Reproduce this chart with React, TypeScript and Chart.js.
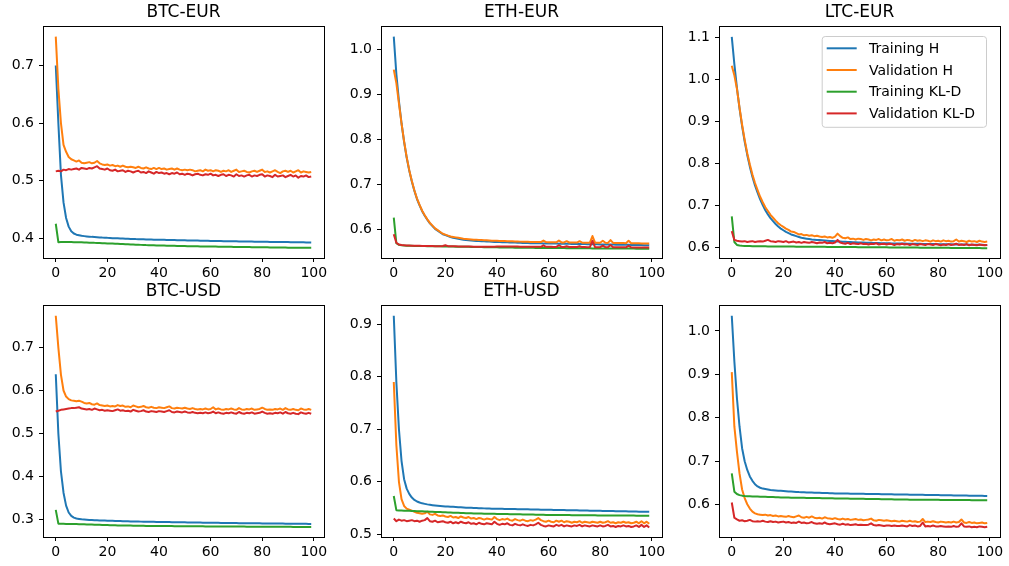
import React, { useEffect, useRef } from "react";
import { Chart, registerables } from "chart.js";

Chart.register(...registerables);

// ---------- data ----------
const epochs = Array.from({ length: 100 }, (_, i) => i);
const xTicks = [0, 20, 40, 60, 80, 100];
const seriesLabels = ["Training H", "Validation H", "Training KL-D", "Validation KL-D"];
const seriesColors = ["#1f77b4", "#ff7f0e", "#2ca02c", "#d62728"];

// BTC-EUR
const btcEurYTicks = [0.4, 0.5, 0.6, 0.7];
const btcEurTrainH = [
  0.700, 0.600, 0.510, 0.462, 0.435, 0.420, 0.412, 0.408, 0.406, 0.405,
  0.4040, 0.4035, 0.4030, 0.4026, 0.4022, 0.4019, 0.4016, 0.4013, 0.4010, 0.4008,
  0.4005, 0.4003, 0.4000, 0.3998, 0.3996, 0.3994, 0.3992, 0.3990, 0.3988, 0.3986,
  0.3985, 0.3983, 0.3982, 0.3980, 0.3979, 0.3978, 0.3976, 0.3975, 0.3974, 0.3973,
  0.3972, 0.3971, 0.3970, 0.3969, 0.3968, 0.3967, 0.3966, 0.3965, 0.3964, 0.3963,
  0.3962, 0.3961, 0.3960, 0.3959, 0.3958, 0.3957, 0.3956, 0.3955, 0.3954, 0.3953,
  0.3952, 0.3951, 0.3950, 0.3950, 0.3949, 0.3948, 0.3947, 0.3946, 0.3946, 0.3945,
  0.3944, 0.3943, 0.3943, 0.3942, 0.3941, 0.3940, 0.3940, 0.3939, 0.3938, 0.3938,
  0.3937, 0.3936, 0.3936, 0.3935, 0.3934, 0.3934, 0.3933, 0.3932, 0.3932, 0.3931,
  0.3931, 0.3930, 0.3929, 0.3929, 0.3928, 0.3928, 0.3927, 0.3926, 0.3926, 0.3925,
];
const btcEurValH = [
  0.750, 0.660, 0.600, 0.562, 0.550, 0.541, 0.537, 0.535, 0.533, 0.535,
  0.531, 0.530, 0.531, 0.532, 0.530, 0.531, 0.534, 0.530, 0.528, 0.527,
  0.528, 0.526, 0.527, 0.525, 0.526, 0.524, 0.526, 0.524, 0.523, 0.524,
  0.523, 0.522, 0.524, 0.522, 0.521, 0.523, 0.521, 0.520, 0.522, 0.520,
  0.522, 0.520, 0.521, 0.519, 0.520, 0.521, 0.519, 0.521, 0.519, 0.518,
  0.519, 0.518, 0.519, 0.518, 0.516, 0.517, 0.518, 0.516, 0.519, 0.517,
  0.518, 0.516, 0.518, 0.517, 0.515, 0.517, 0.516, 0.518, 0.515, 0.517,
  0.519, 0.515, 0.516, 0.517, 0.515, 0.514, 0.516, 0.517, 0.515, 0.517,
  0.519, 0.515, 0.516, 0.514, 0.516, 0.518, 0.515, 0.513, 0.516, 0.517,
  0.515, 0.517, 0.514, 0.516, 0.518, 0.514, 0.516, 0.515, 0.514, 0.515,
];
const btcEurTrainKL = [
  0.425, 0.393, 0.3932, 0.3933, 0.3933, 0.3932, 0.3931, 0.3930, 0.3929, 0.3928,
  0.3927, 0.3925, 0.3924, 0.3922, 0.3920, 0.3918, 0.3917, 0.3915, 0.3913, 0.3911,
  0.3909, 0.3907, 0.3905, 0.3903, 0.3901, 0.3899, 0.3897, 0.3895, 0.3893, 0.3891,
  0.3889, 0.3887, 0.3885, 0.3883, 0.3881, 0.3879, 0.3878, 0.3876, 0.3875, 0.3873,
  0.3872, 0.3871, 0.3870, 0.3869, 0.3868, 0.3867, 0.3866, 0.3865, 0.3864, 0.3863,
  0.3862, 0.3861, 0.3860, 0.3859, 0.3858, 0.3857, 0.3856, 0.3856, 0.3855, 0.3855,
  0.3854, 0.3853, 0.3853, 0.3852, 0.3851, 0.3851, 0.3850, 0.3849, 0.3849, 0.3848,
  0.3847, 0.3847, 0.3846, 0.3845, 0.3845, 0.3844, 0.3843, 0.3843, 0.3842, 0.3842,
  0.3841, 0.3840, 0.3840, 0.3839, 0.3839, 0.3838, 0.3837, 0.3837, 0.3836, 0.3836,
  0.3835, 0.3835, 0.3834, 0.3834, 0.3833, 0.3833, 0.3832, 0.3832, 0.3831, 0.3831,
];
const btcEurValKL = [
  0.516, 0.517, 0.516, 0.519, 0.518, 0.520, 0.519, 0.520, 0.521, 0.519,
  0.522, 0.521, 0.520, 0.522, 0.521, 0.523, 0.525, 0.521, 0.520, 0.519,
  0.521, 0.518, 0.517, 0.519, 0.516, 0.517, 0.518, 0.515, 0.517, 0.516,
  0.514, 0.516, 0.517, 0.514, 0.515, 0.513, 0.516, 0.514, 0.512, 0.515,
  0.513, 0.514, 0.512, 0.513, 0.511, 0.513, 0.512, 0.514, 0.511, 0.512,
  0.510, 0.512, 0.511, 0.509, 0.511, 0.512, 0.510, 0.509, 0.511, 0.510,
  0.512, 0.509, 0.510, 0.508, 0.510, 0.511, 0.508, 0.510, 0.509, 0.507,
  0.511, 0.508, 0.509, 0.507, 0.509, 0.510, 0.507, 0.509, 0.508, 0.510,
  0.511, 0.507, 0.509, 0.508, 0.506, 0.510, 0.507, 0.508, 0.509, 0.506,
  0.508, 0.510, 0.507, 0.509, 0.505, 0.508, 0.507, 0.509, 0.506, 0.507,
];

// ETH-EUR
const ethEurYTicks = [0.6, 0.7, 0.8, 0.9, 1.0];
const ethEurTrainH = [
  1.028, 0.945, 0.885, 0.836, 0.795, 0.760, 0.731, 0.707, 0.686, 0.668,
  0.654, 0.641, 0.631, 0.622, 0.614, 0.608, 0.602, 0.598, 0.594, 0.590,
  0.588, 0.586, 0.584, 0.582, 0.581, 0.580, 0.579, 0.578, 0.577, 0.5765,
  0.5760, 0.5756, 0.5752, 0.5748, 0.5745, 0.5742, 0.5739, 0.5736, 0.5733, 0.5730,
  0.5728, 0.5726, 0.5724, 0.5722, 0.5720, 0.5718, 0.5716, 0.5714, 0.5712, 0.5710,
  0.5708, 0.5706, 0.5704, 0.5702, 0.5701, 0.5700, 0.5699, 0.5698, 0.5697, 0.5696,
  0.5695, 0.5694, 0.5693, 0.5692, 0.5691, 0.5690, 0.5689, 0.5688, 0.5687, 0.5686,
  0.5685, 0.5684, 0.5683, 0.5682, 0.5681, 0.5680, 0.5679, 0.5678, 0.5677, 0.5676,
  0.5675, 0.5674, 0.5673, 0.5672, 0.5671, 0.5670, 0.5669, 0.5668, 0.5667, 0.5666,
  0.5665, 0.5664, 0.5663, 0.5662, 0.5661, 0.5660, 0.5659, 0.5658, 0.5657, 0.5656,
];
const ethEurValH = [
  0.955, 0.925, 0.880, 0.836, 0.796, 0.761, 0.732, 0.708, 0.687, 0.669,
  0.655, 0.642, 0.632, 0.623, 0.615, 0.609, 0.603, 0.599, 0.595, 0.591,
  0.589, 0.587, 0.585, 0.584, 0.583, 0.582, 0.581, 0.580, 0.5795, 0.579,
  0.5785, 0.578, 0.5777, 0.5773, 0.577, 0.5767, 0.5764, 0.5761, 0.5758, 0.5756,
  0.5754, 0.5752, 0.575, 0.5748, 0.5746, 0.5744, 0.5742, 0.574, 0.5738, 0.5736,
  0.5734, 0.5732, 0.5731, 0.573, 0.5729, 0.5728, 0.5727, 0.5726, 0.576, 0.5725,
  0.5724, 0.5723, 0.5722, 0.5721, 0.576, 0.5719, 0.5718, 0.5745, 0.5717, 0.5716,
  0.5715, 0.5714, 0.5745, 0.5713, 0.5712, 0.5711, 0.5715, 0.586, 0.5712, 0.5711,
  0.571, 0.5755, 0.5709, 0.5708, 0.577, 0.5707, 0.5706, 0.5705, 0.5704, 0.5703,
  0.5702, 0.5755, 0.5701, 0.57, 0.5699, 0.5698, 0.5697, 0.5696, 0.5695, 0.5694,
];
const ethEurTrainKL = [
  0.627, 0.570, 0.5665, 0.5655, 0.565, 0.5647, 0.5645, 0.5643, 0.5641, 0.564,
  0.5639, 0.5638, 0.5637, 0.5636, 0.5635, 0.5634, 0.5633, 0.5632, 0.5631, 0.563,
  0.5629, 0.5628, 0.5627, 0.5626, 0.5625, 0.5624, 0.5623, 0.5622, 0.5621, 0.562,
  0.5619, 0.5618, 0.5617, 0.5616, 0.5615, 0.5614, 0.5613, 0.5612, 0.5611, 0.561,
  0.5609, 0.5608, 0.5607, 0.5606, 0.5605, 0.5604, 0.5603, 0.5602, 0.5601, 0.56,
  0.5600, 0.5599, 0.5599, 0.5598, 0.5598, 0.5597, 0.5597, 0.5596, 0.5596, 0.5595,
  0.5595, 0.5594, 0.5594, 0.5593, 0.5593, 0.5592, 0.5592, 0.5591, 0.5591, 0.559,
  0.559, 0.5589, 0.5589, 0.5588, 0.5588, 0.5587, 0.5587, 0.5586, 0.5586, 0.5585,
  0.5585, 0.5585, 0.5584, 0.5584, 0.5584, 0.5583, 0.5583, 0.5583, 0.5582, 0.5582,
  0.5582, 0.5581, 0.5581, 0.5581, 0.558, 0.558, 0.558, 0.5579, 0.5579, 0.5579,
];
const ethEurValKL = [
  0.590, 0.571, 0.567, 0.566, 0.5655, 0.565, 0.5648, 0.5646, 0.5644, 0.5643,
  0.5642, 0.5641, 0.564, 0.5639, 0.5638, 0.5637, 0.5636, 0.5635, 0.5634, 0.5638,
  0.5655, 0.5636, 0.5633, 0.5632, 0.5631, 0.563, 0.5629, 0.5628, 0.5627, 0.5626,
  0.5626, 0.5625, 0.5624, 0.5624, 0.5623, 0.5622, 0.5622, 0.5621, 0.562, 0.5625,
  0.5630, 0.5629, 0.5629, 0.5628, 0.5628, 0.5627, 0.5627, 0.5626, 0.5626, 0.5625,
  0.5625, 0.5624, 0.5624, 0.5623, 0.5623, 0.5622, 0.5622, 0.5621, 0.5655, 0.5621,
  0.562, 0.562, 0.5619, 0.5619, 0.5655, 0.5618, 0.5618, 0.5635, 0.5617, 0.5617,
  0.5616, 0.5616, 0.5635, 0.5615, 0.5615, 0.5614, 0.5616, 0.5755, 0.5614, 0.5613,
  0.5613, 0.5645, 0.5612, 0.5612, 0.566, 0.5611, 0.5611, 0.561, 0.561, 0.561,
  0.5609, 0.5645, 0.5609, 0.5608, 0.5608, 0.5608, 0.5607, 0.5607, 0.5607, 0.5606,
];

// LTC-EUR
const ltcEurYTicks = [0.6, 0.7, 0.8, 0.9, 1.0, 1.1];
const ltcEurTrainH = [
  1.102, 1.037, 0.980, 0.931, 0.889, 0.852, 0.820, 0.792, 0.768, 0.747,
  0.730, 0.714, 0.700, 0.688, 0.678, 0.669, 0.662, 0.655, 0.649, 0.644,
  0.640, 0.636, 0.633, 0.630, 0.628, 0.626, 0.624, 0.622, 0.621, 0.620,
  0.619, 0.618, 0.6175, 0.617, 0.6165, 0.616, 0.6155, 0.615, 0.6146, 0.6142,
  0.6138, 0.6134, 0.613, 0.6127, 0.6124, 0.6121, 0.6118, 0.6115, 0.6112, 0.611,
  0.6108, 0.6106, 0.6104, 0.6102, 0.61, 0.6098, 0.6096, 0.6094, 0.6092, 0.609,
  0.6089, 0.6088, 0.6087, 0.6086, 0.6085, 0.6084, 0.6083, 0.6082, 0.6081, 0.608,
  0.6079, 0.6078, 0.6077, 0.6076, 0.6075, 0.6074, 0.6073, 0.6072, 0.6071, 0.607,
  0.6069, 0.6068, 0.6067, 0.6066, 0.6065, 0.6064, 0.6063, 0.6062, 0.6061, 0.606,
  0.6059, 0.6058, 0.6057, 0.6056, 0.6055, 0.6054, 0.6053, 0.6052, 0.6051, 0.605,
];
const ltcEurValH = [
  1.033, 1.010, 0.978, 0.933, 0.892, 0.856, 0.824, 0.797, 0.773, 0.753,
  0.736, 0.720, 0.707, 0.695, 0.686, 0.677, 0.670, 0.663, 0.657, 0.652,
  0.648, 0.644, 0.641, 0.637, 0.636, 0.633, 0.630, 0.631, 0.628, 0.629,
  0.627, 0.628, 0.626, 0.627, 0.625, 0.624, 0.625, 0.623, 0.624, 0.622,
  0.625, 0.632, 0.626, 0.622, 0.621, 0.623, 0.619, 0.620, 0.618, 0.620,
  0.619, 0.617, 0.619, 0.618, 0.616, 0.618, 0.617, 0.619, 0.616, 0.618,
  0.616, 0.617, 0.619, 0.615, 0.617, 0.616, 0.618, 0.615, 0.617, 0.616,
  0.614, 0.617, 0.615, 0.616, 0.614, 0.616, 0.615, 0.613, 0.616, 0.614,
  0.615, 0.613, 0.616, 0.614, 0.615, 0.613, 0.614, 0.618, 0.613, 0.615,
  0.614, 0.612, 0.615, 0.613, 0.614, 0.612, 0.615, 0.613, 0.612, 0.613,
];
const ltcEurTrainKL = [
  0.673, 0.612, 0.605, 0.6035, 0.603, 0.6027, 0.6025, 0.6023, 0.6021, 0.602,
  0.6019, 0.6018, 0.6017, 0.6016, 0.6015, 0.6014, 0.6014, 0.6013, 0.6013, 0.6012,
  0.6012, 0.6011, 0.6011, 0.601, 0.601, 0.6009, 0.6009, 0.6008, 0.6008, 0.6007,
  0.6007, 0.6006, 0.6006, 0.6005, 0.6005, 0.6004, 0.6004, 0.6003, 0.6003, 0.6002,
  0.6002, 0.6001, 0.6001, 0.600, 0.600, 0.5999, 0.5999, 0.5998, 0.5998, 0.5997,
  0.5997, 0.5996, 0.5996, 0.5995, 0.5995, 0.5994, 0.5994, 0.5993, 0.5993, 0.5992,
  0.5992, 0.5991, 0.5991, 0.599, 0.599, 0.5989, 0.5989, 0.5988, 0.5988, 0.5987,
  0.5987, 0.5986, 0.5986, 0.5985, 0.5985, 0.5984, 0.5984, 0.5983, 0.5983, 0.5982,
  0.5982, 0.5981, 0.5981, 0.598, 0.598, 0.5979, 0.5979, 0.5978, 0.5978, 0.5977,
  0.5977, 0.5976, 0.5976, 0.5975, 0.5975, 0.5974, 0.5974, 0.5973, 0.5973, 0.5972,
];
const ltcEurValKL = [
  0.638, 0.617, 0.615, 0.614, 0.613, 0.614, 0.612, 0.613, 0.614, 0.612,
  0.613, 0.614, 0.613, 0.615, 0.617, 0.614, 0.613, 0.612, 0.614, 0.613,
  0.612, 0.614, 0.611, 0.612, 0.613, 0.611, 0.612, 0.610, 0.612, 0.611,
  0.610, 0.612, 0.611, 0.609, 0.611, 0.610, 0.612, 0.609, 0.610, 0.609,
  0.611, 0.617, 0.611, 0.609, 0.608, 0.610, 0.607, 0.609, 0.608, 0.607,
  0.609, 0.607, 0.608, 0.606, 0.608, 0.607, 0.609, 0.606, 0.607, 0.608,
  0.606, 0.608, 0.607, 0.605, 0.607, 0.606, 0.608, 0.606, 0.607, 0.605,
  0.607, 0.606, 0.605, 0.607, 0.606, 0.605, 0.607, 0.606, 0.605, 0.607,
  0.606, 0.604, 0.606, 0.605, 0.607, 0.605, 0.606, 0.608, 0.605, 0.606,
  0.605, 0.607, 0.604, 0.606, 0.605, 0.604, 0.606, 0.605, 0.604, 0.605,
];

// BTC-USD
const btcUsdYTicks = [0.3, 0.4, 0.5, 0.6, 0.7];
const btcUsdTrainH = [
  0.638, 0.500, 0.412, 0.362, 0.332, 0.316, 0.308, 0.304, 0.302, 0.301,
  0.300, 0.2995, 0.299, 0.2986, 0.2983, 0.298, 0.2978, 0.2976, 0.2974, 0.2972,
  0.297, 0.2968, 0.2966, 0.2964, 0.2962, 0.296, 0.2958, 0.2956, 0.2954, 0.2952,
  0.295, 0.2949, 0.2948, 0.2947, 0.2946, 0.2945, 0.2944, 0.2943, 0.2942, 0.2941,
  0.294, 0.2939, 0.2938, 0.2937, 0.2936, 0.2935, 0.2934, 0.2933, 0.2932, 0.2931,
  0.293, 0.2929, 0.2928, 0.2927, 0.2926, 0.2925, 0.2924, 0.2923, 0.2922, 0.2921,
  0.292, 0.2919, 0.2918, 0.2918, 0.2917, 0.2916, 0.2916, 0.2915, 0.2914, 0.2914,
  0.2913, 0.2912, 0.2912, 0.2911, 0.291, 0.291, 0.2909, 0.2908, 0.2908, 0.2907,
  0.2906, 0.2906, 0.2905, 0.2904, 0.2904, 0.2903, 0.2902, 0.2902, 0.2901, 0.29,
  0.29, 0.2899, 0.2898, 0.2898, 0.2897, 0.2896, 0.2896, 0.2895, 0.2894, 0.2894,
];
const btcUsdValH = [
  0.774, 0.700, 0.637, 0.600, 0.586, 0.580, 0.577, 0.576, 0.575, 0.576,
  0.574, 0.571, 0.570, 0.571, 0.568, 0.567, 0.570, 0.566, 0.565, 0.564,
  0.565, 0.563, 0.564, 0.563, 0.566, 0.564, 0.565, 0.562, 0.563, 0.561,
  0.565, 0.563, 0.561, 0.562, 0.564, 0.561, 0.560, 0.562, 0.560, 0.559,
  0.561, 0.560, 0.559, 0.561, 0.563, 0.559, 0.558, 0.560, 0.559, 0.558,
  0.560, 0.558, 0.557, 0.559, 0.557, 0.556, 0.557, 0.556, 0.558, 0.556,
  0.557, 0.561, 0.556, 0.558, 0.556, 0.555, 0.557, 0.556, 0.558, 0.556,
  0.555, 0.559, 0.556, 0.555, 0.557, 0.556, 0.558, 0.555, 0.556, 0.557,
  0.560, 0.557, 0.555, 0.556, 0.555, 0.557, 0.556, 0.558, 0.555, 0.559,
  0.556, 0.555, 0.557, 0.555, 0.554, 0.558, 0.556, 0.555, 0.557, 0.555,
];
const btcUsdTrainKL = [
  0.322, 0.290, 0.2895, 0.2895, 0.2894, 0.2893, 0.2892, 0.2891, 0.289, 0.2888,
  0.2886, 0.2884, 0.2882, 0.288, 0.2878, 0.2876, 0.2874, 0.2872, 0.287, 0.2868,
  0.2866, 0.2864, 0.2862, 0.286, 0.2859, 0.2858, 0.2857, 0.2856, 0.2855, 0.2854,
  0.2853, 0.2852, 0.2851, 0.285, 0.2849, 0.2848, 0.2848, 0.2847, 0.2846, 0.2846,
  0.2845, 0.2845, 0.2844, 0.2844, 0.2843, 0.2843, 0.2842, 0.2842, 0.2841, 0.2841,
  0.284, 0.284, 0.2839, 0.2839, 0.2838, 0.2838, 0.2837, 0.2837, 0.2836, 0.2836,
  0.2835, 0.2835, 0.2834, 0.2834, 0.2834, 0.2833, 0.2833, 0.2833, 0.2832, 0.2832,
  0.2832, 0.2831, 0.2831, 0.2831, 0.283, 0.283, 0.283, 0.2829, 0.2829, 0.2829,
  0.2828, 0.2828, 0.2828, 0.2827, 0.2827, 0.2827, 0.2826, 0.2826, 0.2826, 0.2825,
  0.2825, 0.2825, 0.2824, 0.2824, 0.2824, 0.2823, 0.2823, 0.2823, 0.2822, 0.2822,
];
const btcUsdValKL = [
  0.551, 0.553, 0.555, 0.556, 0.557, 0.558, 0.559, 0.559, 0.560, 0.561,
  0.558, 0.557, 0.556, 0.557, 0.555, 0.558, 0.556, 0.554, 0.555, 0.553,
  0.554, 0.553, 0.552, 0.554, 0.556, 0.553, 0.554, 0.552, 0.553, 0.551,
  0.555, 0.553, 0.551, 0.552, 0.554, 0.551, 0.550, 0.552, 0.551, 0.550,
  0.552, 0.551, 0.550, 0.552, 0.554, 0.550, 0.549, 0.551, 0.550, 0.549,
  0.551, 0.549, 0.548, 0.550, 0.548, 0.547, 0.548, 0.547, 0.549, 0.547,
  0.548, 0.551, 0.547, 0.549, 0.547, 0.546, 0.548, 0.547, 0.549, 0.547,
  0.546, 0.550, 0.547, 0.546, 0.548, 0.547, 0.549, 0.546, 0.547, 0.548,
  0.551, 0.548, 0.546, 0.547, 0.546, 0.548, 0.547, 0.549, 0.546, 0.550,
  0.547, 0.546, 0.548, 0.546, 0.545, 0.549, 0.547, 0.546, 0.548, 0.546,
];

// ETH-USD
const ethUsdYTicks = [0.5, 0.6, 0.7, 0.8, 0.9];
const ethUsdTrainH = [
  0.916, 0.790, 0.700, 0.640, 0.605, 0.587, 0.577, 0.570, 0.5655, 0.5625,
  0.5605, 0.559, 0.558, 0.557, 0.5562, 0.5555, 0.5549, 0.5544, 0.554, 0.5536,
  0.5532, 0.5529, 0.5526, 0.5523, 0.552, 0.5517, 0.5514, 0.5511, 0.5508, 0.5506,
  0.5504, 0.5502, 0.55, 0.5498, 0.5496, 0.5494, 0.5492, 0.549, 0.5489, 0.5488,
  0.5487, 0.5486, 0.5485, 0.5484, 0.5483, 0.5482, 0.5481, 0.548, 0.5479, 0.5478,
  0.5477, 0.5476, 0.5475, 0.5474, 0.5473, 0.5472, 0.5471, 0.547, 0.5469, 0.5468,
  0.5467, 0.5466, 0.5465, 0.5464, 0.5463, 0.5462, 0.5461, 0.546, 0.5459, 0.5458,
  0.5457, 0.5456, 0.5455, 0.5454, 0.5453, 0.5452, 0.5451, 0.545, 0.5449, 0.5448,
  0.5447, 0.5446, 0.5445, 0.5444, 0.5443, 0.5442, 0.5441, 0.544, 0.5439, 0.5438,
  0.5437, 0.5436, 0.5435, 0.5434, 0.5433, 0.5432, 0.5431, 0.543, 0.5429, 0.5428,
];
const ethUsdValH = [
  0.790, 0.670, 0.600, 0.567, 0.554, 0.549, 0.547, 0.545, 0.543, 0.541,
  0.540, 0.539, 0.540, 0.543, 0.538, 0.537, 0.539, 0.536, 0.535, 0.536,
  0.534, 0.533, 0.535, 0.532, 0.533, 0.531, 0.534, 0.532, 0.531, 0.533,
  0.530, 0.531, 0.529, 0.531, 0.530, 0.528, 0.530, 0.529, 0.528, 0.533,
  0.529, 0.527, 0.529, 0.528, 0.530, 0.527, 0.526, 0.529, 0.527, 0.526,
  0.528, 0.526, 0.525, 0.527, 0.526, 0.528, 0.531, 0.527, 0.525, 0.524,
  0.526, 0.524, 0.523, 0.526, 0.524, 0.526, 0.523, 0.525, 0.524, 0.522,
  0.524, 0.523, 0.525, 0.522, 0.524, 0.523, 0.522, 0.524, 0.523, 0.522,
  0.524, 0.522, 0.523, 0.525, 0.522, 0.523, 0.521, 0.523, 0.522, 0.524,
  0.522, 0.523, 0.521, 0.522, 0.524, 0.521, 0.525, 0.521, 0.524, 0.520,
];
const ethUsdTrainKL = [
  0.573, 0.546, 0.5455, 0.5453, 0.5451, 0.5449, 0.5447, 0.5445, 0.5443, 0.5441,
  0.5439, 0.5437, 0.5435, 0.5433, 0.5431, 0.5429, 0.5427, 0.5425, 0.5423, 0.5421,
  0.5419, 0.5417, 0.5415, 0.5413, 0.5411, 0.5409, 0.5407, 0.5405, 0.5403, 0.5401,
  0.5399, 0.5398, 0.5397, 0.5396, 0.5395, 0.5394, 0.5393, 0.5392, 0.5391, 0.539,
  0.5389, 0.5388, 0.5387, 0.5386, 0.5385, 0.5384, 0.5383, 0.5382, 0.5381, 0.538,
  0.5379, 0.5378, 0.5377, 0.5376, 0.5375, 0.5374, 0.5373, 0.5372, 0.5371, 0.537,
  0.537, 0.5369, 0.5369, 0.5368, 0.5368, 0.5367, 0.5367, 0.5366, 0.5366, 0.5365,
  0.5365, 0.5364, 0.5364, 0.5363, 0.5363, 0.5362, 0.5362, 0.5361, 0.5361, 0.536,
  0.536, 0.536, 0.5359, 0.5359, 0.5359, 0.5358, 0.5358, 0.5358, 0.5357, 0.5357,
  0.5357, 0.5356, 0.5356, 0.5356, 0.5355, 0.5355, 0.5355, 0.5354, 0.5354, 0.5354,
];
const ethUsdValKL = [
  0.530, 0.525, 0.528, 0.526, 0.527, 0.525, 0.526, 0.527, 0.525, 0.526,
  0.524, 0.526, 0.527, 0.531, 0.525, 0.524, 0.526, 0.523, 0.524, 0.525,
  0.523, 0.522, 0.524, 0.521, 0.523, 0.521, 0.524, 0.522, 0.521, 0.523,
  0.520, 0.521, 0.519, 0.522, 0.520, 0.519, 0.521, 0.520, 0.519, 0.524,
  0.520, 0.518, 0.520, 0.519, 0.521, 0.518, 0.517, 0.520, 0.518, 0.517,
  0.519, 0.517, 0.516, 0.518, 0.517, 0.519, 0.522, 0.518, 0.516, 0.515,
  0.517, 0.516, 0.515, 0.518, 0.516, 0.518, 0.515, 0.517, 0.516, 0.515,
  0.517, 0.516, 0.518, 0.515, 0.517, 0.516, 0.515, 0.517, 0.516, 0.515,
  0.517, 0.515, 0.516, 0.518, 0.515, 0.516, 0.514, 0.516, 0.515, 0.517,
  0.515, 0.516, 0.514, 0.515, 0.517, 0.514, 0.518, 0.514, 0.517, 0.513,
];

// LTC-USD
const ltcUsdYTicks = [0.6, 0.7, 0.8, 0.9, 1.0];
const ltcUsdTrainH = [
  1.035, 0.930, 0.845, 0.780, 0.730, 0.700, 0.680, 0.665, 0.655, 0.647,
  0.642, 0.639, 0.637, 0.636, 0.635, 0.634, 0.6334, 0.6328, 0.6322, 0.6318,
  0.6315, 0.631, 0.6306, 0.6302, 0.6298, 0.6294, 0.629, 0.6288, 0.6285, 0.6282,
  0.628, 0.6278, 0.6276, 0.6274, 0.6272, 0.627, 0.6268, 0.6266, 0.6264, 0.6262,
  0.626, 0.6259, 0.6258, 0.6257, 0.6256, 0.6255, 0.6254, 0.6253, 0.6252, 0.6251,
  0.625, 0.6249, 0.6248, 0.6247, 0.6246, 0.6245, 0.6244, 0.6243, 0.6242, 0.6241,
  0.624, 0.6239, 0.6238, 0.6237, 0.6236, 0.6235, 0.6234, 0.6233, 0.6232, 0.6231,
  0.623, 0.6229, 0.6228, 0.6227, 0.6226, 0.6225, 0.6224, 0.6223, 0.6222, 0.6221,
  0.622, 0.6219, 0.6218, 0.6217, 0.6216, 0.6215, 0.6214, 0.6213, 0.6212, 0.6211,
  0.621, 0.6209, 0.6208, 0.6207, 0.6206, 0.6205, 0.6204, 0.6203, 0.6202, 0.6201,
];
const ltcUsdValH = [
  0.905, 0.780, 0.722, 0.672, 0.635, 0.615, 0.601, 0.591, 0.584, 0.580,
  0.578, 0.577, 0.576, 0.577, 0.575, 0.576, 0.574, 0.575, 0.573, 0.574,
  0.573, 0.572, 0.574, 0.572, 0.571, 0.573, 0.575, 0.571, 0.570, 0.572,
  0.570, 0.573, 0.570, 0.569, 0.570, 0.568, 0.571, 0.569, 0.568, 0.567,
  0.569, 0.567, 0.566, 0.568, 0.566, 0.567, 0.565, 0.566, 0.567, 0.565,
  0.566, 0.564, 0.565, 0.566, 0.568, 0.564, 0.563, 0.565, 0.564, 0.563,
  0.564, 0.563, 0.562, 0.563, 0.562, 0.561, 0.563, 0.562, 0.561, 0.563,
  0.561, 0.562, 0.560, 0.561, 0.567, 0.560, 0.561, 0.560, 0.562, 0.560,
  0.559, 0.561, 0.560, 0.559, 0.560, 0.559, 0.561, 0.559, 0.560, 0.566,
  0.559, 0.558, 0.560, 0.558, 0.559, 0.557, 0.558, 0.559, 0.557, 0.558,
];
const ltcUsdTrainKL = [
  0.672, 0.630, 0.6245, 0.622, 0.6208, 0.62, 0.6196, 0.6193, 0.619, 0.6188,
  0.6186, 0.6184, 0.6182, 0.618, 0.6178, 0.6176, 0.6174, 0.6172, 0.617, 0.6168,
  0.6166, 0.6164, 0.6163, 0.6162, 0.6161, 0.616, 0.6159, 0.6158, 0.6157, 0.6156,
  0.6155, 0.6154, 0.6153, 0.6152, 0.6151, 0.615, 0.6149, 0.6148, 0.6147, 0.6146,
  0.6145, 0.6144, 0.6143, 0.6142, 0.6141, 0.614, 0.6139, 0.6138, 0.6137, 0.6136,
  0.6135, 0.6134, 0.6133, 0.6132, 0.6131, 0.613, 0.6129, 0.6128, 0.6127, 0.6126,
  0.6125, 0.6124, 0.6123, 0.6122, 0.6121, 0.612, 0.6119, 0.6118, 0.6117, 0.6116,
  0.6116, 0.6115, 0.6115, 0.6114, 0.6114, 0.6113, 0.6113, 0.6112, 0.6112, 0.6111,
  0.6111, 0.611, 0.611, 0.6109, 0.6109, 0.6108, 0.6108, 0.6107, 0.6107, 0.6106,
  0.6106, 0.6105, 0.6105, 0.6104, 0.6104, 0.6103, 0.6103, 0.6102, 0.6102, 0.6101,
];
const ltcUsdValKL = [
  0.605, 0.570, 0.566, 0.563, 0.564, 0.562, 0.563, 0.565, 0.562, 0.561,
  0.562, 0.561, 0.563, 0.561, 0.560, 0.562, 0.560, 0.561, 0.559, 0.560,
  0.561, 0.559, 0.560, 0.558, 0.559, 0.558, 0.561, 0.558, 0.559, 0.557,
  0.558, 0.560, 0.557, 0.556, 0.557, 0.556, 0.559, 0.556, 0.555, 0.556,
  0.557, 0.555, 0.554, 0.556, 0.554, 0.555, 0.553, 0.554, 0.555, 0.553,
  0.554, 0.553, 0.553, 0.554, 0.557, 0.553, 0.552, 0.553, 0.552, 0.551,
  0.552, 0.552, 0.551, 0.552, 0.551, 0.551, 0.552, 0.551, 0.550, 0.553,
  0.551, 0.552, 0.550, 0.551, 0.559, 0.550, 0.551, 0.550, 0.552, 0.550,
  0.550, 0.551, 0.550, 0.549, 0.550, 0.549, 0.551, 0.549, 0.550, 0.557,
  0.550, 0.549, 0.550, 0.548, 0.549, 0.548, 0.550, 0.549, 0.548, 0.549,
];

// ---------- layout ----------
const FONT = "'DejaVu Sans', 'Liberation Sans', sans-serif";
const PLOT_W = 281;
const PLOT_H = 232;
const AX_W = 42; // y-axis band
const AX_H = 24; // x-axis band
const TITLE_H = 26;
const RPAD = 8;
const colLeft = [43, 381, 719];
const rowTop = [26, 305];

const panels = [
  { title: "BTC-EUR", series: [btcEurTrainH, btcEurValH, btcEurTrainKL, btcEurValKL], yTicks: btcEurYTicks, yMin: 0.3655, yMax: 0.7685, col: 0, row: 0, legend: false },
  { title: "ETH-EUR", series: [ethEurTrainH, ethEurValH, ethEurTrainKL, ethEurValKL], yTicks: ethEurYTicks, yMin: 0.5373, yMax: 1.0516, col: 1, row: 0, legend: false },
  { title: "LTC-EUR", series: [ltcEurTrainH, ltcEurValH, ltcEurTrainKL, ltcEurValKL], yTicks: ltcEurYTicks, yMin: 0.5738, yMax: 1.1279, col: 2, row: 0, legend: true },
  { title: "BTC-USD", series: [btcUsdTrainH, btcUsdValH, btcUsdTrainKL, btcUsdValKL], yTicks: btcUsdYTicks, yMin: 0.2589, yMax: 0.7991, col: 0, row: 1, legend: false },
  { title: "ETH-USD", series: [ethUsdTrainH, ethUsdValH, ethUsdTrainKL, ethUsdValKL], yTicks: ethUsdYTicks, yMin: 0.4949, yMax: 0.9366, col: 1, row: 1, legend: false },
  { title: "LTC-USD", series: [ltcUsdTrainH, ltcUsdValH, ltcUsdTrainKL, ltcUsdValKL], yTicks: ltcUsdYTicks, yMin: 0.5256, yMax: 1.0596, col: 2, row: 1, legend: false },
];

// frame around the plot area (matplotlib spines)
const framePlugin = {
  id: "mplFrame",
  afterDraw(chart: any) {
    const { ctx, chartArea: ca } = chart;
    ctx.save();
    ctx.strokeStyle = "#000";
    ctx.lineWidth = 1;
    ctx.strokeRect(ca.left + 0.5, ca.top + 0.5, ca.right - ca.left, ca.bottom - ca.top);
    ctx.restore();
  },
};

// matplotlib-like legend box inside the axes (upper right)
const legendPlugin = {
  id: "mplLegend",
  afterDatasetsDraw(chart: any, _args: any, opts: any) {
    if (!opts || !opts.show) return;
    const { ctx, chartArea: ca } = chart;
    const ds = chart.data.datasets;
    ctx.save();
    ctx.font = `14px ${FONT}`;
    const pad = 5, handle = 30, gap = 12.3, pitch = 21.7;
    const x = ca.left + 102.7;
    const y = ca.top + 10;
    const w = ca.right - 14 - x;
    const h = 12.3 + pitch * (ds.length - 1) + 13.4;
    ctx.beginPath();
    if ((ctx as any).roundRect) (ctx as any).roundRect(x + 0.5, y + 0.5, w, h, 3);
    else ctx.rect(x + 0.5, y + 0.5, w, h);
    ctx.fillStyle = "rgba(255,255,255,0.8)";
    ctx.fill();
    ctx.strokeStyle = "#cccccc";
    ctx.lineWidth = 1;
    ctx.stroke();
    ds.forEach((d: any, i: number) => {
      const cy = y + 12.3 + i * pitch;
      ctx.beginPath();
      ctx.strokeStyle = d.borderColor;
      ctx.lineWidth = 2;
      ctx.moveTo(x + pad, cy);
      ctx.lineTo(x + pad + handle, cy);
      ctx.stroke();
      ctx.fillStyle = "#000";
      ctx.textBaseline = "middle";
      ctx.textAlign = "left";
      ctx.fillText(d.label, x + pad + handle + gap, cy + 1);
    });
    ctx.restore();
  },
};

function Panel({ cfg }: { cfg: any }) {
  const ref = useRef<HTMLCanvasElement>(null);
  const width = AX_W + PLOT_W + RPAD;
  const height = TITLE_H + PLOT_H + AX_H;
  const left = colLeft[cfg.col] - AX_W;
  const top = rowTop[cfg.row] - TITLE_H;

  useEffect(() => {
    if (!ref.current) return;
    const chart = new Chart(ref.current, {
      type: "line",
      data: {
        datasets: cfg.series.map((vals: number[], i: number) => ({
          label: seriesLabels[i],
          data: vals.map((v, k) => ({ x: epochs[k], y: v })),
          borderColor: seriesColors[i],
          backgroundColor: seriesColors[i],
          borderWidth: 2,
          pointRadius: 0,
          tension: 0,
          fill: false,
          borderJoinStyle: "round",
          order: 3 - i,
        })),
      },
      options: {
        responsive: false,
        animation: false,
        devicePixelRatio: 1,
        events: [],
        layout: { padding: { left: 0, right: RPAD, top: 0, bottom: 0 } },
        plugins: {
          legend: { display: false },
          tooltip: { enabled: false },
          title: {
            display: true,
            text: cfg.title,
            fullSize: false,
            color: "#000",
            font: { size: 17, family: FONT, weight: "normal" },
            padding: { top: 2, bottom: 3.6 },
          },
          mplLegend: { show: cfg.legend },
        } as any,
        scales: {
          x: {
            type: "linear",
            min: -4.95,
            max: 103.95,
            afterBuildTicks: (scale: any) => {
              scale.ticks = xTicks.map((v) => ({ value: v }));
            },
            afterFit: (scale: any) => {
              scale.height = AX_H;
            },
            ticks: {
              autoSkip: false,
              maxRotation: 0,
              color: "#000",
              padding: 3,
              font: { size: 14, family: FONT },
              callback: (v: any) => String(v),
            },
            grid: { drawOnChartArea: false, drawTicks: true, tickLength: 4, color: "#000", lineWidth: 1 },
            border: { display: false },
          },
          y: {
            type: "linear",
            min: cfg.yMin,
            max: cfg.yMax,
            afterBuildTicks: (scale: any) => {
              scale.ticks = cfg.yTicks.map((v: number) => ({ value: v }));
            },
            afterFit: (scale: any) => {
              scale.width = AX_W;
            },
            ticks: {
              autoSkip: false,
              color: "#000",
              padding: 5,
              font: { size: 14, family: FONT },
              callback: (v: any) => Number(v).toFixed(1),
            },
            grid: { drawOnChartArea: false, drawTicks: true, tickLength: 4, color: "#000", lineWidth: 1 },
            border: { display: false },
          },
        },
      } as any,
      plugins: [framePlugin, legendPlugin],
    });
    return () => chart.destroy();
  }, []);

  return (
    <canvas
      ref={ref}
      width={width}
      height={height}
      style={{ position: "absolute", left, top, width, height, display: "block" }}
    />
  );
}

export default function App() {
  return (
    <div
      style={{
        position: "absolute",
        left: 0,
        top: 0,
        width: 1009,
        height: 566,
        background: "#fff",
        overflow: "hidden",
      }}
    >
      {panels.map((p) => (
        <Panel key={p.title} cfg={p} />
      ))}
    </div>
  );
}
